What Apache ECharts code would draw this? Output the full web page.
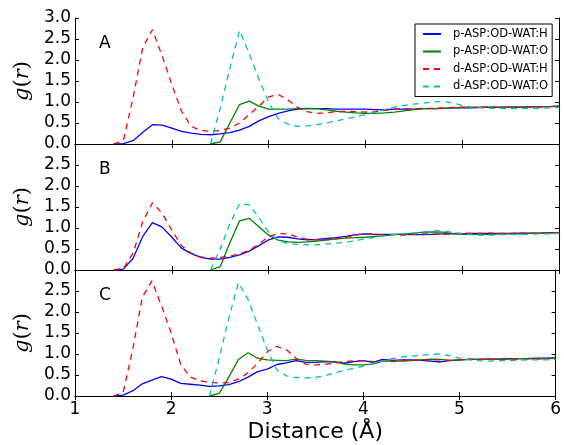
<!DOCTYPE html>
<html>
<head>
<meta charset="utf-8">
<script src="https://cdn.jsdelivr.net/npm/echarts@6/dist/echarts.min.js"></script>
<style>
  html, body { margin: 0; padding: 0; background: #fff; }
  #chart { width: 564px; height: 445px; }
</style>
</head>
<body>
<div id="chart"></div>
<script>
// distances (Å), sampled every 0.1
const distance = [1.4, 1.5, 1.6, 1.7, 1.8, 1.9, 2.0, 2.1, 2.2, 2.3,
  2.4, 2.5, 2.6, 2.7, 2.8, 2.9, 3.0, 3.1, 3.2, 3.3,
  3.4, 3.5, 3.6, 3.7, 3.8, 3.9, 4.0, 4.1, 4.2, 4.3,
  4.4, 4.5, 4.6, 4.7, 4.8, 4.9, 5.0, 5.1, 5.2, 5.3,
  5.4, 5.5, 5.6, 5.7, 5.8, 5.9, 6.0];

const seriesNames = ['p-ASP:OD-WAT:H', 'p-ASP:OD-WAT:O', 'd-ASP:OD-WAT:H', 'd-ASP:OD-WAT:O'];
const panelLabels = ['A', 'B', 'C'];
const xTicks = [1, 2, 3, 4, 5, 6];
const yTicks = [0, 0.5, 1.0, 1.5, 2.0, 2.5, 3.0];

// panel A
const pH_A = [0, 0.01, 0.08, 0.28, 0.46, 0.45, 0.38, 0.30, 0.26, 0.23,
  0.22, 0.24, 0.27, 0.33, 0.42, 0.55, 0.65, 0.73, 0.79, 0.83,
  0.84, 0.84, 0.84, 0.83, 0.83, 0.83, 0.83, 0.82, 0.82, 0.83,
  0.83, 0.83, 0.84, 0.84, 0.85, 0.86, 0.86, 0.86, 0.87, 0.87,
  0.87, 0.88, 0.88, 0.88, 0.89, 0.89, 0.90];
const pO_A = [null, null, null, null, null, null, null, null, null, null,
  0, 0.05, 0.50, 0.94, 1.02, 0.90, 0.83, 0.83, 0.83, 0.84,
  0.85, 0.84, 0.81, 0.78, 0.76, 0.74, 0.73, 0.73, 0.74, 0.76,
  0.79, 0.82, 0.84, 0.84, 0.85, 0.86, 0.87, 0.87, 0.88, 0.88,
  0.88, 0.88, 0.88, 0.89, 0.89, 0.89, 0.90];
const dH_A = [0, 0.08, 1.10, 2.30, 2.72, 2.10, 1.42, 0.78, 0.42, 0.32,
  0.30, 0.32, 0.38, 0.50, 0.70, 0.90, 1.12, 1.18, 1.05, 0.87,
  0.77, 0.73, 0.74, 0.77, 0.78, 0.77, 0.76, 0.77, 0.80, 0.83,
  0.84, 0.84, 0.85, 0.85, 0.86, 0.87, 0.88, 0.87, 0.88, 0.88,
  0.87, 0.88, 0.88, 0.89, 0.88, 0.89, 0.90];
const dO_A = [null, null, null, null, null, null, null, null, null, null,
  0, 0.85, 1.80, 2.70, 2.15, 1.55, 1.00, 0.60, 0.47, 0.42,
  0.43, 0.46, 0.50, 0.55, 0.60, 0.65, 0.70, 0.76, 0.82, 0.88,
  0.92, 0.95, 0.97, 1.00, 1.01, 0.98, 0.92, 0.88, 0.86, 0.85,
  0.85, 0.84, 0.84, 0.85, 0.85, 0.86, 0.87];

// panel B
const pH_B = [0, 0.02, 0.28, 0.80, 1.13, 1.02, 0.78, 0.52, 0.39, 0.30,
  0.26, 0.26, 0.30, 0.36, 0.45, 0.58, 0.72, 0.79, 0.78, 0.74,
  0.72, 0.73, 0.75, 0.77, 0.80, 0.84, 0.86, 0.85, 0.85, 0.85,
  0.85, 0.84, 0.84, 0.85, 0.86, 0.86, 0.86, 0.87, 0.87, 0.87,
  0.87, 0.87, 0.88, 0.88, 0.88, 0.89, 0.89];
const pO_B = [null, null, null, null, null, null, null, null, null, null,
  0, 0.08, 0.65, 1.17, 1.23, 1.03, 0.83, 0.71, 0.67, 0.66,
  0.67, 0.69, 0.72, 0.74, 0.76, 0.77, 0.78, 0.80, 0.82, 0.84,
  0.86, 0.88, 0.90, 0.91, 0.90, 0.87, 0.85, 0.85, 0.85, 0.85,
  0.86, 0.86, 0.86, 0.87, 0.87, 0.88, 0.89];
const dH_B = [0, 0.04, 0.40, 1.15, 1.60, 1.35, 0.95, 0.58, 0.40, 0.31,
  0.28, 0.30, 0.33, 0.38, 0.47, 0.62, 0.79, 0.87, 0.86, 0.78,
  0.73, 0.72, 0.72, 0.74, 0.78, 0.83, 0.87, 0.84, 0.84, 0.84,
  0.83, 0.85, 0.86, 0.86, 0.85, 0.86, 0.88, 0.87, 0.87, 0.88,
  0.87, 0.87, 0.88, 0.88, 0.88, 0.89, 0.89];
const dO_B = [null, null, null, null, null, null, null, null, null, null,
  0, 0.50, 1.10, 1.58, 1.55, 1.25, 0.90, 0.70, 0.63, 0.61,
  0.60, 0.60, 0.62, 0.64, 0.66, 0.70, 0.74, 0.78, 0.82, 0.85,
  0.86, 0.88, 0.90, 0.94, 0.93, 0.90, 0.86, 0.84, 0.83, 0.83,
  0.84, 0.84, 0.85, 0.85, 0.86, 0.86, 0.87];

// panel C
const pH_C = [0, 0.02, 0.12, 0.29, 0.38, 0.46, 0.40, 0.30, 0.28, 0.26,
  0.23, 0.24, 0.27, 0.34, 0.45, 0.58, 0.64, 0.75, 0.79, 0.84,
  0.80, 0.80, 0.82, 0.81, 0.78, 0.82, 0.84, 0.80, 0.87, 0.85,
  0.86, 0.86, 0.85, 0.83, 0.81, 0.84, 0.86, 0.87, 0.87, 0.88,
  0.88, 0.89, 0.89, 0.89, 0.90, 0.90, 0.91];
const pO_C = [null, null, null, null, null, null, null, null, null, null,
  0, 0.06, 0.45, 0.87, 1.03, 0.90, 0.86, 0.85, 0.84, 0.88,
  0.85, 0.84, 0.83, 0.82, 0.76, 0.74, 0.74, 0.76, 0.83, 0.83,
  0.83, 0.84, 0.86, 0.88, 0.87, 0.85, 0.86, 0.87, 0.87, 0.88,
  0.88, 0.88, 0.89, 0.89, 0.88, 0.89, 0.90];
const dH_C = [0, 0.08, 1.10, 2.35, 2.74, 2.15, 1.50, 0.75, 0.45, 0.36,
  0.33, 0.31, 0.32, 0.40, 0.55, 0.78, 1.05, 1.18, 1.10, 0.90,
  0.76, 0.74, 0.75, 0.78, 0.82, 0.84, 0.84, 0.82, 0.83, 0.82,
  0.84, 0.85, 0.86, 0.86, 0.86, 0.85, 0.86, 0.88, 0.88, 0.87,
  0.88, 0.88, 0.87, 0.88, 0.89, 0.89, 0.89];
const dO_C = [null, null, null, null, null, null, null, null, null, null,
  0, 0.90, 1.85, 2.70, 2.30, 1.70, 1.10, 0.62, 0.48, 0.44,
  0.43, 0.44, 0.48, 0.55, 0.61, 0.66, 0.71, 0.77, 0.83, 0.89,
  0.93, 0.95, 0.97, 0.99, 1.00, 0.96, 0.90, 0.86, 0.84, 0.83,
  0.84, 0.84, 0.85, 0.86, 0.86, 0.86, 0.87];

const panels = [
  [pH_A, pO_A, dH_A, dO_A],
  [pH_B, pO_B, dH_B, dO_B],
  [pH_C, pO_C, dH_C, dO_C]
];

const colors = ['#0000ff', '#008000', '#ff0000', '#00bfbf'];
const lineTypes = ['solid', 'solid', [6, 5], [6, 5]];
const FONT = 'DejaVu Sans';

const chart = echarts.init(document.getElementById('chart'), null, { renderer: 'canvas' });

const gridTops = [18, 144, 270];
const grids = gridTops.map(t => ({ left: 75, right: 5, top: t, height: 126, containLabel: false }));

const axisLine = { show: true, lineStyle: { color: '#000', width: 1 } };
const tick = { show: true, inside: true, length: 4, lineStyle: { color: '#000' } };

const xAxes = [];
const yAxes = [];
panels.forEach((_, i) => {
  const last = i === panels.length - 1;
  xAxes.push({
    gridIndex: i, type: 'value', position: 'bottom',
    min: xTicks[0], max: xTicks[xTicks.length - 1], interval: 1,
    axisLine, axisTick: tick, splitLine: { show: false },
    axisLabel: { show: last, margin: 5, color: '#000', fontFamily: FONT, fontSize: 17 },
    name: last ? 'Distance (Å)' : '',
    nameLocation: 'middle', nameGap: 25,
    nameTextStyle: { color: '#000', fontFamily: FONT, fontSize: 22 }
  });
  xAxes.push({
    gridIndex: i, type: 'value', position: 'top',
    min: xTicks[0], max: xTicks[xTicks.length - 1], interval: 1,
    axisLine, axisTick: tick, splitLine: { show: false }, axisLabel: { show: false }
  });
  yAxes.push({
    gridIndex: i, type: 'value', position: 'left',
    min: yTicks[0], max: yTicks[yTicks.length - 1], interval: 0.5,
    axisLine, axisTick: tick, splitLine: { show: false },
    axisLabel: {
      margin: 4, color: '#000', fontFamily: FONT, fontSize: 17,
      formatter: v => (i > 0 && v === yTicks[yTicks.length - 1]) ? '' : v.toFixed(1)
    },
    name: '{i|g}{n|(}{i|r}{n|)}',
    nameLocation: 'middle', nameGap: 32, nameRotate: 90,
    nameTextStyle: {
      rich: {
        i: { fontFamily: 'DejaVu Serif', fontStyle: 'italic', fontSize: 21, color: '#000' },
        n: { fontFamily: 'DejaVu Serif', fontSize: 21, color: '#000' }
      }
    }
  });
  yAxes.push({
    gridIndex: i, type: 'value', position: 'right',
    min: yTicks[0], max: yTicks[yTicks.length - 1], interval: 0.5,
    axisLine, axisTick: tick, splitLine: { show: false }, axisLabel: { show: false }
  });
});

const series = [];
panels.forEach((curves, i) => {
  curves.forEach((vals, k) => {
    series.push({
      name: seriesNames[k],
      type: 'line',
      xAxisIndex: 2 * i,
      yAxisIndex: 2 * i,
      symbol: 'none',
      data: distance.map((d, j) => [d, vals[j]]),
      lineStyle: { color: colors[k], width: 1.3, type: lineTypes[k] },
      itemStyle: { color: colors[k] },
      z: 3
    });
  });
});

const option = {
  backgroundColor: '#fff',
  animation: false,
  textStyle: { fontFamily: FONT },
  title: panelLabels.map((lab, i) => ({
    text: lab, left: 94, top: gridTops[i] + 12,
    textStyle: { fontFamily: FONT, fontSize: 17, fontWeight: 'normal', color: '#000' }
  })),
  legend: {
    orient: 'vertical',
    left: 415, top: 24,
    padding: [4, 4, 4, 7],
    itemWidth: 18, itemHeight: 12, itemGap: 5.5,
    itemStyle: { opacity: 0 },
    backgroundColor: '#fff', borderColor: '#000', borderWidth: 1, borderRadius: 0,
    textStyle: { fontFamily: FONT, fontSize: 11.5, color: '#000', padding: [0, 0, 0, 7] },
    data: seriesNames
  },
  grid: grids,
  xAxis: xAxes,
  yAxis: yAxes,
  series
};

chart.setOption(option);
</script>
</body>
</html>
